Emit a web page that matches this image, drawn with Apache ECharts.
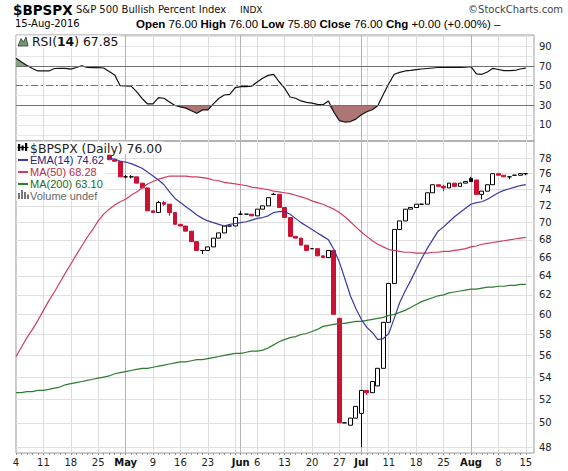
<!DOCTYPE html>
<html>
<head>
<meta charset="utf-8">
<title>$BPSPX</title>
<script src="https://cdn.jsdelivr.net/npm/echarts@6.0.0/dist/echarts.min.js"></script>
<style>
  html, body { margin: 0; padding: 0; background: #fff; }
  #chart { width: 568px; height: 471px; }
</style>
</head>
<body>
<div id="chart"></div>
<script>
// trading days on the chart
var dates = [
  '2016-04-04','2016-04-05','2016-04-06','2016-04-07','2016-04-08',
  '2016-04-11','2016-04-12','2016-04-13','2016-04-14','2016-04-15',
  '2016-04-18','2016-04-19','2016-04-20','2016-04-21','2016-04-22',
  '2016-04-25','2016-04-26','2016-04-27','2016-04-28','2016-04-29',
  '2016-05-02','2016-05-03','2016-05-04','2016-05-05','2016-05-06',
  '2016-05-09','2016-05-10','2016-05-11','2016-05-12','2016-05-13',
  '2016-05-16','2016-05-17','2016-05-18','2016-05-19','2016-05-20',
  '2016-05-23','2016-05-24','2016-05-25','2016-05-26','2016-05-27',
  '2016-05-31',
  '2016-06-01','2016-06-02','2016-06-03',
  '2016-06-06','2016-06-07','2016-06-08','2016-06-09','2016-06-10',
  '2016-06-13','2016-06-14','2016-06-15','2016-06-16','2016-06-17',
  '2016-06-20','2016-06-21','2016-06-22','2016-06-23','2016-06-24',
  '2016-06-27','2016-06-28','2016-06-29','2016-06-30',
  '2016-07-01',
  '2016-07-05','2016-07-06','2016-07-07','2016-07-08',
  '2016-07-11','2016-07-12','2016-07-13','2016-07-14','2016-07-15',
  '2016-07-18','2016-07-19','2016-07-20','2016-07-21','2016-07-22',
  '2016-07-25','2016-07-26','2016-07-27','2016-07-28','2016-07-29',
  '2016-08-01','2016-08-02','2016-08-03','2016-08-04','2016-08-05',
  '2016-08-08','2016-08-09','2016-08-10','2016-08-11','2016-08-12',
  '2016-08-15'
];

// daily OHLC (nothing visible before 27-Apr)
var opens = [
  null, null, null, null, null, null, null, null, null, null,
  null, null, null, null, null, null, null,
  78.4, 77.8, 77.6, 75.6, 75.6, 75.6, 74.8, 74.2, 71.4, 71.2,
  72.4, 72.2, 71.2, 69.8, 69.6, 69.0, 67.8, 66.8, 66.8, 67.2,
  68.2, 68.8, 69.6, 69.6, 71.0, 71.0, 71.0, 70.8, 71.6, 72.0,
  73.4, 73.4, 71.8, 70.6, 68.4, 68.2, 67.4, 67.0, 67.0, 66.2,
  66.0, 66.8, 59.6, 50.0, 49.8, 50.4, 50.8, 52.8, 52.6, 53.2,
  54.8, 59.2, 63.2, 69.2, 70.2, 71.6, 71.8, 72.2, 72.2, 73.6,
  74.6, 74.4, 74.2, 74.8, 74.4, 74.8, 75.4, 75.2, 73.4, 73.8,
  74.6, 76.0, 75.8, 75.6, 75.8, 75.8, 76.0
];
var closes = [
  null, null, null, null, null, null, null, null, null, null,
  null, null, null, null, null, null, null,
  77.8, 77.6, 75.6, 75.6, 75.6, 74.8, 74.2, 71.4, 71.2, 72.4,
  72.2, 71.2, 69.8, 69.6, 69.0, 67.8, 66.8, 66.8, 67.2, 68.2,
  68.8, 69.6, 69.6, 70.6, 71.0, 71.0, 70.8, 71.6, 72.0, 73.0,
  73.4, 71.8, 70.6, 68.4, 68.2, 67.4, 66.8, 67.0, 66.2, 66.0,
  66.8, 60.0, 50.0, 50.0, 50.4, 51.4, 52.8, 52.6, 53.6, 54.8,
  59.2, 63.2, 69.2, 70.2, 71.6, 71.8, 72.2, 72.2, 73.6, 74.6,
  74.4, 74.2, 74.8, 74.4, 74.8, 75.0, 75.0, 73.4, 73.8, 74.6,
  76.0, 75.8, 75.6, 75.6, 75.8, 76.0, 76.0
];
var lows = [
  null, null, null, null, null, null, null, null, null, null,
  null, null, null, null, null, null, null,
  77.8, 77.6, 75.6, 75.4, 75.4, 74.8, 74.2, 71.4, 71.2, 71.2,
  72.0, 70.8, 69.8, 69.6, 69.0, 67.8, 66.8, 66.4, 66.8, 67.2,
  68.2, 68.8, 69.6, 69.6, 71.0, 71.0, 70.8, 70.8, 71.6, 72.0,
  73.4, 71.8, 70.6, 68.4, 68.2, 67.4, 66.8, 67.0, 66.2, 66.0,
  66.0, 60.0, 50.0, 50.0, 49.8, 50.4, 48.0, 52.4, 52.6, 53.2,
  54.8, 59.2, 63.2, 69.2, 70.2, 71.6, 71.8, 72.2, 72.2, 73.6,
  74.4, 73.8, 74.2, 74.4, 74.4, 74.8, 75.0, 73.4, 72.8, 73.8,
  74.6, 75.8, 75.6, 75.3, 75.8, 75.8, 75.8
];
var highs = [
  null, null, null, null, null, null, null, null, null, null,
  null, null, null, null, null, null, null,
  78.4, 77.8, 77.6, 75.8, 75.8, 75.6, 74.8, 74.2, 71.4, 72.6,
  72.6, 72.2, 71.2, 69.8, 69.6, 69.0, 67.8, 66.8, 67.2, 68.2,
  68.8, 69.6, 69.6, 70.6, 71.4, 71.0, 71.0, 71.6, 72.0, 73.0,
  73.6, 73.4, 71.8, 70.6, 68.4, 68.2, 67.4, 67.0, 67.0, 66.2,
  66.8, 66.8, 59.6, 50.0, 50.4, 51.4, 52.8, 52.8, 53.6, 54.8,
  59.2, 63.2, 69.2, 70.2, 71.6, 71.8, 72.2, 72.2, 73.6, 74.6,
  74.6, 74.6, 74.8, 74.8, 74.8, 75.0, 75.6, 75.2, 73.8, 74.6,
  76.0, 76.0, 75.8, 75.6, 75.8, 76.0, 76.0
];

// overlays
var ema14 = [
  null, null, null, null, null, null, null, null, null, null,
  null, null, null, null, null, null, null,
  78.0, 77.9, 77.6, 77.5, 77.3, 77.0, 76.7, 76.2, 75.7, 75.2,
  74.6, 73.7, 72.9, 72.4, 71.9, 71.4, 70.9, 70.5, 70.2, 70.0,
  69.8, 69.6, 69.8, 69.9, 70.0, 70.1, 70.3, 70.5, 70.6, 70.8,
  71.2, 71.3, 71.3, 71.0, 70.5, 70.0, 69.6, 69.2, 68.8, 68.4,
  68.0, 66.9, 65.5, 63.7, 61.9, 60.6, 59.5, 58.7, 58.2, 57.5,
  57.6, 58.1, 59.6, 61.2, 62.4, 63.5, 64.7, 65.9, 67.0, 68.0,
  69.0, 69.5, 70.1, 70.7, 71.2, 71.7, 72.2, 72.4, 72.5, 72.8,
  73.2, 73.6, 73.9, 74.1, 74.3, 74.5, 74.62
];
var ma50 = [
  55.9, 56.8, 57.7, 58.5, 59.4, 60.4, 61.4, 62.3, 63.3, 64.3,
  65.3, 66.3, 67.3, 68.3, 69.2, 70.2, 71.0, 71.6, 72.1, 72.5,
  72.8, 73.3, 73.7, 74.2, 74.7, 75.0, 75.3, 75.5, 75.7, 75.7,
  75.7, 75.7, 75.6, 75.6, 75.5, 75.4, 75.2, 75.1, 74.9, 74.8,
  74.7, 74.6, 74.5, 74.3, 74.2, 74.1, 74.0, 73.8, 73.7, 73.6,
  73.5, 73.3, 73.1, 72.9, 72.6, 72.4, 72.2, 71.9, 71.6, 71.2,
  70.7, 70.1, 69.5, 68.9, 68.4, 67.9, 67.5, 67.2, 66.9, 66.8,
  66.7, 66.6, 66.6, 66.5, 66.5, 66.5, 66.6, 66.6, 66.7, 66.7,
  66.8, 66.9, 67.0, 67.2, 67.3, 67.5, 67.6, 67.7, 67.8, 67.9,
  68.0, 68.1, 68.2, 68.28
];
var ma200 = [
  52.6, 52.6, 52.7, 52.7, 52.8, 52.8, 52.9, 53.0, 53.1, 53.3,
  53.4, 53.5, 53.6, 53.7, 53.8, 53.9, 54.0, 54.1, 54.3, 54.4,
  54.5, 54.6, 54.7, 54.8, 54.8, 54.9, 55.0, 55.1, 55.2, 55.3,
  55.4, 55.4, 55.5, 55.6, 55.6, 55.7, 55.8, 55.9, 56.0, 56.1,
  56.2, 56.2, 56.3, 56.4, 56.4, 56.5, 56.7, 57.0, 57.3, 57.5,
  57.7, 57.8, 58.0, 58.1, 58.3, 58.5, 58.8, 58.9, 59.0, 59.1,
  59.1, 59.2, 59.3, 59.3, 59.4, 59.5, 59.6, 59.7, 59.9, 60.0,
  60.2, 60.4, 60.7, 61.0, 61.3, 61.5, 61.7, 61.9, 62.0, 62.2,
  62.3, 62.4, 62.5, 62.6, 62.6, 62.7, 62.8, 62.8, 62.9, 62.9,
  63.0, 63.0, 63.1, 63.1
];
var rsi14 = [
  77.9, 74.0, 70.5, 67.5, 65.0, 65.0, 65.0, 67.5, 67.7, 67.7,
  66.8, 68.5, 70.3, 68.5, 68.3, 68.3, 68.0, 64.5, 61.0, 50.0,
  49.7, 49.5, 44.0, 37.0, 31.4, 31.4, 37.8, 37.2, 33.5, 29.8,
  28.5, 27.2, 24.5, 21.9, 25.3, 25.3, 31.5, 37.0, 40.5, 41.2,
  48.0, 49.0, 49.0, 49.5, 53.8, 57.5, 60.5, 61.6, 54.0, 47.5,
  38.5, 37.2, 34.5, 33.0, 32.3, 31.0, 30.6, 34.5, 23.0, 14.5,
  13.0, 13.5, 16.0, 20.5, 23.5, 25.5, 29.5, 41.0, 52.0, 61.6,
  63.5, 65.0, 65.5, 66.3, 67.0, 67.5, 68.0, 68.5, 68.7, 68.7,
  68.7, 68.7, 69.0, 69.3, 62.0, 61.6, 64.0, 67.7, 66.5, 65.3,
  65.3, 65.5, 67.0, 67.85
];

// axis ticks and labels
var xLabelDates = ['2016-04-04','2016-04-11','2016-04-18','2016-04-25','2016-05-02','2016-05-09',
  '2016-05-16','2016-05-23','2016-06-01','2016-06-06','2016-06-13','2016-06-20','2016-06-27',
  '2016-07-01','2016-07-11','2016-07-18','2016-07-25','2016-08-01','2016-08-08','2016-08-15'];
var xLabelTexts = ['4','11','18','25','May','9','16','23','Jun','6','13','20','27',
  'Jul','11','18','25','Aug','8','15'];
var weekLines = ['2016-04-11','2016-04-18','2016-04-25','2016-05-09','2016-05-16','2016-05-23',
  '2016-05-31','2016-06-06','2016-06-13','2016-06-20','2016-06-27','2016-07-05','2016-07-11',
  '2016-07-18','2016-07-25','2016-08-08','2016-08-15'];
var monthLines = ['2016-05-02','2016-06-01','2016-07-01','2016-08-01'];
var priceTicks = [48, 50, 52, 54, 56, 58, 60, 62, 64, 66, 68, 70, 72, 74, 76, 78];
var rsiLabels = [10, 30, 50, 70, 90];
var rsiLines = [0, 10, 20, 30, 40, 50, 60, 70, 80, 90, 100];
var MONTHS = ['Jan','Feb','Mar','Apr','May','Jun','Jul','Aug','Sep','Oct','Nov','Dec'];

var RED = '#cc1133';
var EMA_C = '#3a3aa6';
var MA50_C = '#d23c5e';
var MA200_C = '#2e7d2e';
var FONT = '"DejaVu Sans"';
var X_MAX = dates.length + 0.5;

function idxOf(d) { return dates.indexOf(d); }
function pairs(arr) {
  var out = [];
  for (var i = 0; i < arr.length; i++) {
    if (arr[i] != null) out.push([i, arr[i]]);
  }
  return out;
}

var allIdx = dates.map(function (d, i) { return i; });
var labelIdx = xLabelDates.map(idxOf);

// StockCharts colouring: hollow when close > open, red when close < previous close
var candleData = [];
for (var i = 0; i < dates.length; i++) {
  if (opens[i] == null) continue;
  var item = { value: [i, opens[i], closes[i], lows[i], highs[i]] };
  var prev = i > 0 ? closes[i - 1] : null;
  if (prev != null && closes[i] < opens[i] && closes[i] >= prev) {
    item.itemStyle = { color0: '#000', borderColor0: '#000' };
  }
  if (prev != null && closes[i] > opens[i] && closes[i] < prev) {
    item.itemStyle = { borderColor: RED };
  }
  candleData.push(item);
}

function gridAxis(gridIndex, ticks, color) {
  return {
    type: 'value', gridIndex: gridIndex, min: 0, max: X_MAX,
    axisLine: { show: false }, axisLabel: { show: false },
    axisTick: { show: false, customValues: ticks },
    splitLine: { show: true, lineStyle: { color: color, width: 1 } }
  };
}

var last = dates.length - 1;
var d = dates[last].split('-');
var dateLabel = d[2] + '-' + MONTHS[+d[1] - 1] + '-' + d[0];
var chg = closes[last] - closes[last - 1];
var pct = chg / closes[last - 1] * 100;
function signed(v) { return (v >= 0 ? '+' : '') + v.toFixed(2); }

function label(x, y, text, font, fill, align, rich) {
  var st = { text: text, x: x, y: y, font: font, fill: fill,
    align: align || 'left', textAlign: align || 'left',
    verticalAlign: 'middle', textVerticalAlign: 'middle' };
  if (rich) st.rich = rich;
  return { type: 'text', z: 101, silent: true, style: st };
}
function box(x, y, w, h, fill) {
  return { type: 'rect', z: 100, silent: true, shape: { x: x, y: y, width: w, height: h }, style: { fill: fill } };
}

var boldRich = { b: { fontWeight: 'bold', fontSize: 11.5, fontFamily: '"Liberation Sans"', fill: '#000' } };
var quote = '{b|Open} ' + opens[last].toFixed(2) + ' {b|High} ' + highs[last].toFixed(2) +
  ' {b|Low} ' + lows[last].toFixed(2) + ' {b|Close} ' + closes[last].toFixed(2) +
  ' {b|Chg} ' + signed(chg) + ' (' + signed(pct) + '%) \u2013';

var legendRows = [
  { y: 160, text: 'EMA(14) ' + ema14[last].toFixed(2), color: '#23237a', line: EMA_C },
  { y: 172, text: 'MA(50) ' + ma50[last].toFixed(2), color: '#c0284a', line: MA50_C },
  { y: 184, text: 'MA(200) ' + ma200[last].toFixed(2), color: '#1e6b1e', line: MA200_C }
];

var graphics = [
  label(13, 9.5, '$BPSPX', 'bold 13.5px ' + FONT, '#000'),
  label(76, 9.8, 'S&P 500 Bullish Percent Index', '10px ' + FONT, '#111'),
  label(240, 10, 'INDX', '9px ' + FONT, '#111'),
  label(563, 9.5, '\u00A9StockCharts.com', '10px ' + FONT, '#444', 'right'),
  label(15, 23.8, dateLabel, '10px ' + FONT, '#000'),
  label(136, 23.8, quote, '11.5px "Liberation Sans"', '#000', 'left', boldRich),

  // RSI legend
  box(16.5, 35.5, 104, 12.5, '#fff'),
  { type: 'polygon', z: 101, silent: true,
    shape: { points: [[18, 46], [21, 38.5], [23.5, 42], [26, 37], [28, 46]] },
    style: { fill: '#6f9a6f', stroke: '#333', lineWidth: 0.8 } },
  label(32, 41.5, '{n|RSI(}{b|14}{n|) ' + rsi14[last].toFixed(2) + '}', '12.4px ' + FONT, '#111', 'left',
    { n: { fontSize: 12.4, fontFamily: FONT, fill: '#111' },
      b: { fontSize: 12.4, fontFamily: FONT, fontWeight: 'bold', fill: '#111' } }),

  // main legend
  box(16.5, 141.5, 147, 12.5, '#fff'),
  box(16.5, 154, 89, 47, '#fff'),
  box(18, 144, 2.2, 7, '#000'), box(21.5, 145.5, 2.2, 5, '#000'), box(25, 143, 2.2, 8, '#000'),
  box(17.5, 147, 11, 1, '#000'),
  label(30, 148, '$BPSPX (Daily) ' + closes[last].toFixed(2), '12.4px ' + FONT, '#222'),
  box(18, 193, 2, 6, '#777'), box(21, 190, 2, 9, '#777'), box(24, 192, 2, 7, '#777'), box(27, 194.5, 2, 4.5, '#777'),
  label(30, 195.5, 'Volume undef', '11px "Liberation Sans"', '#666')
];
legendRows.forEach(function (r) {
  graphics.push(box(18, r.y - 1, 10, 2, r.line));
  graphics.push(label(30, r.y, r.text, '11px "Liberation Sans"', r.color));
});

var chart = echarts.init(document.getElementById('chart'), null, { renderer: 'svg' });

var option = {
  animation: false,
  backgroundColor: '#fff',
  textStyle: { fontFamily: FONT },
  grid: [
    { left: 16, right: 34, top: 141, bottom: 18, show: true, borderColor: '#999', borderWidth: 1 },
    { left: 16, right: 34, top: 35, bottom: 330, show: true, borderColor: '#999', borderWidth: 1 }
  ],
  xAxis: [
    {
      type: 'value', gridIndex: 0, min: 0, max: X_MAX,
      axisLine: { show: false },
      splitLine: { show: false },
      axisTick: { show: true, customValues: allIdx, length: 2, lineStyle: { color: '#999' } },
      axisLabel: {
        customValues: labelIdx, margin: 4, fontSize: 10, color: '#222', fontFamily: FONT,
        formatter: function (val) {
          var k = labelIdx.indexOf(Math.round(val));
          if (k < 0) return '';
          var t = xLabelTexts[k];
          return /^\d+$/.test(t) ? t : '{m|' + t + '}';
        },
        rich: { m: { fontWeight: 'bold', fontSize: 10, color: '#111', fontFamily: FONT } }
      }
    },
    gridAxis(0, weekLines.map(idxOf), '#dcdcdc'),
    gridAxis(0, monthLines.map(idxOf), '#b2b2b2'),
    {
      type: 'value', gridIndex: 1, min: 0, max: X_MAX,
      axisLine: { show: false }, axisLabel: { show: false }, axisTick: { show: false },
      splitLine: { show: false }
    },
    gridAxis(1, weekLines.map(idxOf), '#dcdcdc'),
    gridAxis(1, monthLines.map(idxOf), '#b2b2b2')
  ],
  yAxis: [
    {
      type: 'log', logBase: 10, gridIndex: 0, position: 'right', min: 47.53, max: 80.29,
      axisLine: { show: false },
      axisTick: { show: false, customValues: priceTicks },
      axisLabel: {
        customValues: priceTicks, margin: 5, fontSize: 10, color: '#222', fontFamily: FONT,
        formatter: function (v) { return String(Math.round(v)); }
      },
      splitLine: { show: true, lineStyle: { color: '#e0e0e0' } }
    },
    {
      type: 'value', gridIndex: 1, position: 'right', min: -6.3, max: 101.6,
      axisLine: { show: false },
      axisTick: { show: false, customValues: rsiLines },
      axisLabel: { customValues: rsiLabels, margin: 5, fontSize: 10, color: '#222', fontFamily: FONT },
      splitLine: { show: true, lineStyle: { color: '#e6e6e6' } }
    }
  ],
  series: [
    {
      type: 'candlestick', name: '$BPSPX', xAxisIndex: 0, yAxisIndex: 0,
      barWidth: 4.4, data: candleData,
      itemStyle: { color: '#fff', color0: RED, borderColor: '#000', borderColor0: RED, borderWidth: 1 }
    },
    {
      type: 'line', name: 'MA(200)', xAxisIndex: 0, yAxisIndex: 0, data: pairs(ma200),
      symbol: 'none', lineStyle: { color: MA200_C, width: 1.2 }, z: 3
    },
    {
      type: 'line', name: 'MA(50)', xAxisIndex: 0, yAxisIndex: 0, data: pairs(ma50),
      symbol: 'none', lineStyle: { color: MA50_C, width: 1.2 }, z: 3
    },
    {
      type: 'line', name: 'EMA(14)', xAxisIndex: 0, yAxisIndex: 0, data: pairs(ema14),
      symbol: 'none', lineStyle: { color: EMA_C, width: 1.2 }, z: 3
    },
    // RSI shading below 30 and above 70
    {
      type: 'line', name: 'oversold', xAxisIndex: 3, yAxisIndex: 1, silent: true,
      data: pairs(rsi14.map(function (v) { return Math.min(v, 30); })),
      symbol: 'none', lineStyle: { opacity: 0 },
      areaStyle: { origin: 30, color: '#ad7573', opacity: 1 }
    },
    {
      type: 'line', name: 'overbought', xAxisIndex: 3, yAxisIndex: 1, silent: true,
      data: pairs(rsi14.map(function (v) { return Math.max(v, 70); })),
      symbol: 'none', lineStyle: { opacity: 0 },
      areaStyle: { origin: 70, color: '#86a386', opacity: 1 }
    },
    {
      type: 'line', name: 'RSI(14)', xAxisIndex: 3, yAxisIndex: 1, data: pairs(rsi14),
      symbol: 'none', lineStyle: { color: '#111', width: 1.2 }, z: 4,
      markLine: {
        silent: true, symbol: ['none', 'none'], label: { show: false },
        data: [
          { yAxis: 70, lineStyle: { color: '#707070', width: 1, type: 'solid' } },
          { yAxis: 30, lineStyle: { color: '#707070', width: 1, type: 'solid' } },
          { yAxis: 50, lineStyle: { color: '#707070', width: 1, type: [7, 3, 2, 3] } }
        ]
      }
    }
  ],
  graphic: { elements: graphics }
};

chart.setOption(option);
</script>
</body>
</html>
